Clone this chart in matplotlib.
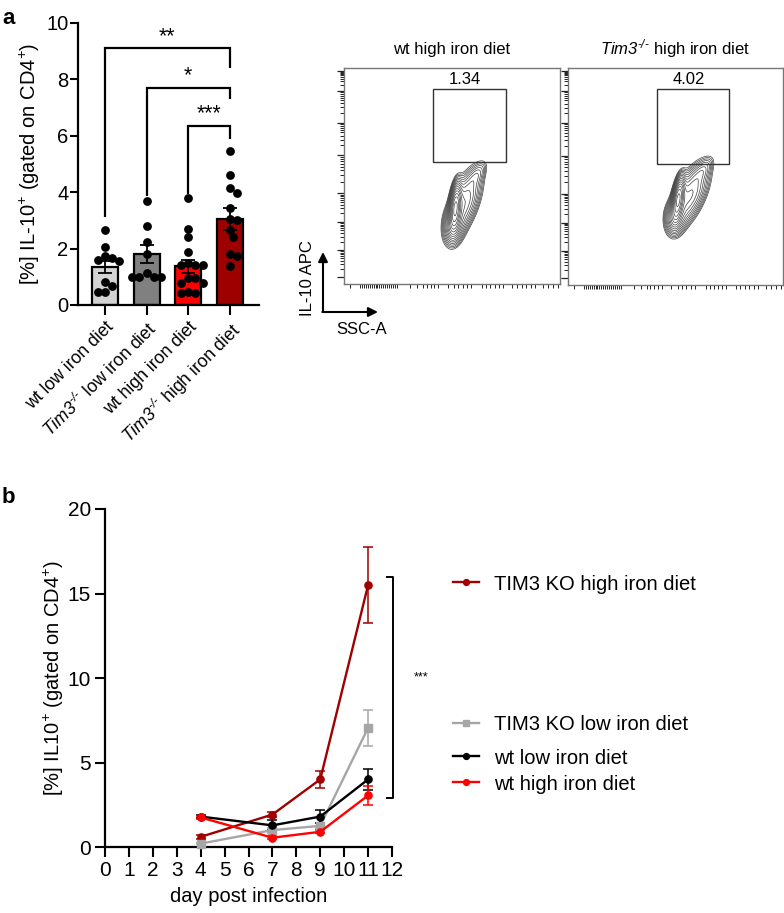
import numpy as np
import matplotlib
matplotlib.use("Agg")
import matplotlib.pyplot as plt
from matplotlib.patches import Rectangle, FancyArrowPatch
from matplotlib.lines import Line2D

plt.rcParams['font.family'] = ['Liberation Sans', 'DejaVu Sans']
plt.rcParams['mathtext.fontset'] = 'custom'
plt.rcParams['mathtext.rm'] = 'Liberation Sans:italic'
plt.rcParams['mathtext.it'] = 'Liberation Sans:italic'
plt.rcParams['mathtext.bf'] = 'Liberation Sans:bold'

# ---------------- DATA ----------------
# panel a: bar chart
bar_labels = ['wt low iron diet',
              r'$\mathit{Tim3}^{\text{-/-}}$ low iron diet',
              'wt high iron diet',
              r'$\mathit{Tim3}^{\text{-/-}}$ high iron diet']
bar_means = [1.35, 1.80, 1.37, 3.05]
bar_sem = [0.20, 0.31, 0.23, 0.38]
pts_wt_low = [2.66, 2.07, 1.74, 1.55, 1.60, 1.65, 0.83, 0.67, 0.45, 0.45]
pts_ko_low = [3.70, 2.80, 2.25, 1.80, 1.12, 1.00, 0.98, 0.98, 1.00]
pts_wt_high = [3.78, 2.68, 2.40, 1.87, 1.48, 1.42, 1.42, 1.42, 0.95, 0.95,
               0.78, 0.78, 0.41, 0.41, 0.45]
pts_ko_high = [5.45, 4.60, 4.15, 3.98, 3.45, 3.05, 3.00, 2.65, 2.40, 1.80,
               1.75, 1.38]
bar_colors = ['#D3D3D3', '#808080', '#FF0000', '#9E0000']
# significance comparisons: (group i, group j, stars)
comparisons = [(0, 3, '**'), (1, 3, '*'), (2, 3, '***')]

# flow plots
flow_titles = ['wt high iron diet', r'$\mathit{Tim3}^{\text{-/-}}$ high iron diet']
gate_values = ['1.34', '4.02']

# panel b: time course
days = [4, 7, 9, 11]
ko_high = [0.60, 1.92, 4.00, 15.50]
ko_high_err = [0.10, 0.15, 0.50, 2.25]
ko_low = [0.20, 1.00, 1.25, 7.05]
ko_low_err = [0.05, 0.15, 0.15, 1.05]
wt_low = [1.80, 1.28, 1.80, 4.00]
wt_low_err = [0.10, 0.30, 0.38, 0.60]
wt_high = [1.75, 0.55, 0.90, 3.05]
wt_high_err = [0.10, 0.10, 0.10, 0.55]
series_labels = ['TIM3 KO high iron diet', 'TIM3 KO low iron diet',
                 'wt low iron diet', 'wt high iron diet']

# ---------------- FIGURE ----------------
W, H = 784, 913
fig = plt.figure(figsize=(W / 100, H / 100), dpi=100)
FS = 14.5


def px_axes(l, t, r, b):
    return fig.add_axes([l / W, 1 - b / H, (r - l) / W, (b - t) / H])


# ---------- panel a ----------
axa = px_axes(77.7, 23, 259, 305)
xpos = np.arange(4)
axa.bar(xpos, bar_means, width=0.62, color=bar_colors, edgecolor='black',
        linewidth=1.6, zorder=2)
axa.errorbar(xpos, bar_means, yerr=bar_sem, fmt='none', ecolor='black',
             elinewidth=1.3, capsize=5, capthick=1.3, zorder=4)


def swarm(vals, xscale=41.7, yscale=28.2, diam=7.2):
    vals = np.asarray(vals, float)
    order = np.argsort(-vals)
    placed = []
    offs = np.zeros(len(vals))
    cands = [0]
    for k in range(1, 12):
        cands += [k * 0.5, -k * 0.5]
    for i in order:
        y = vals[i] * yscale
        for c in cands:
            x = c * diam
            if all((x - px) ** 2 + (y - py) ** 2 >= (diam * 0.98) ** 2
                   for px, py in placed):
                break
        placed.append((x, y))
        offs[i] = x / xscale
    return offs


for i, pts in enumerate([pts_wt_low, pts_ko_low, pts_wt_high, pts_ko_high]):
    off = swarm(pts)
    axa.scatter(i + off, pts, s=40, color='black', zorder=3, linewidths=0)

axa.set_xlim(-0.655, 3.70)
axa.set_ylim(0, 10)
axa.set_yticks([0, 2, 4, 6, 8, 10])
axa.set_xticks(xpos)
axa.set_xticklabels(bar_labels, rotation=45, ha='right',
                    rotation_mode='anchor', fontsize=12.7)
axa.tick_params(axis='y', labelsize=FS, length=6, width=1.5, pad=0.8)
axa.tick_params(axis='x', length=7, width=1.5, pad=3)
for s in ['top', 'right']:
    axa.spines[s].set_visible(False)
for s in ['left', 'bottom']:
    axa.spines[s].set_linewidth(1.6)
axa.set_ylabel(r'[%] IL-10$^{\text{+}}$ (gated on CD4$^{\text{+}}$)',
               fontsize=FS, labelpad=3)

tops = [max(p) for p in [pts_wt_low, pts_ko_low, pts_wt_high, pts_ko_high]]
br_levels = [9.1, 7.7, 6.35]
br_right = [8.4, 7.3, 5.87]
for (i, j, st), yl, yr in zip(comparisons, br_levels, br_right):
    yleft = tops[i] + (0.45 if i == 0 else 0.15)
    axa.plot([i, i, j, j], [yleft, yl, yl, yr], color='black', lw=1.6,
             clip_on=False, zorder=5, solid_capstyle='butt',
             solid_joinstyle='miter')
    axa.text((i + j) / 2, yl + 0.05, st, ha='center', va='bottom',
             fontsize=15.5, clip_on=False)

fig.text(2 / W, 1 - 8 / H, 'a', fontsize=16, fontweight='bold',
         ha='left', va='top')

# ---------- flow plots ----------
flow_boxes = [(344, 68, 560, 284), (568, 68, 783, 285)]
gates = [(0.412, 0.565, 0.750, 0.903), (0.414, 0.556, 0.749, 0.903)]
blobs = [
    [(0.516, 0.36, 0.014, 0.060, -5, 1.00),
     (0.555, 0.37, 0.036, 0.100, -20, 0.40),
     (0.620, 0.51, 0.018, 0.040, -30, 0.10),
     (0.505, 0.27, 0.026, 0.050, 0, 0.25)],
    [(0.513, 0.40, 0.014, 0.055, -8, 1.00),
     (0.565, 0.41, 0.038, 0.095, -25, 0.40),
     (0.630, 0.53, 0.018, 0.040, -35, 0.10),
     (0.495, 0.31, 0.026, 0.045, 0, 0.25)],
]
y_major = [0.034, 0.157, 0.288, 0.420, 0.596, 0.747, 0.895, 0.986]
y_minor = []
for lo, hi in zip(y_major[:-1], y_major[1:]):
    y_minor += [lo + (hi - lo) * np.log10(k) for k in range(2, 10)]
x_minor = ([0.028] + list(np.arange(0.074, 0.25, 0.009)) + [0.305, 0.338]
           + list(np.linspace(0.366, 0.435, 5)) + [0.48]
           + list(np.linspace(0.51, 0.59, 5)) + list(np.linspace(0.64, 0.735, 6))
           + list(np.linspace(0.78, 0.885, 6)) + list(np.linspace(0.92, 0.99, 4)))

gx, gy = np.meshgrid(np.linspace(0, 1, 400), np.linspace(0, 1, 400))
for k, (box, gate, comps) in enumerate(zip(flow_boxes, gates, blobs)):
    ax = px_axes(*box)
    ax.set_xlim(0, 1)
    ax.set_ylim(0, 1)
    Z = np.zeros_like(gx)
    for cx, cy, sx, sy, th, w in comps:
        t = np.deg2rad(th)
        dx, dy = gx - cx, gy - cy
        u = dx * np.cos(t) + dy * np.sin(t)
        v = -dx * np.sin(t) + dy * np.cos(t)
        Z += w * np.exp(-0.5 * ((u / sx) ** 2 + (v / sy) ** 2))
    levels = Z.max() * np.geomspace(0.045, 0.9, 15)
    ax.contour(gx, gy, Z, levels=levels, colors='#404040', linewidths=0.5)
    x0, y0, x1, y1 = gate
    ax.add_patch(Rectangle((x0, y0), x1 - x0, y1 - y0, fill=False,
                           edgecolor='#333333', lw=1.0))
    ax.text((x0 + x1) / 2 - 0.02, y1 + 0.01, gate_values[k], ha='center',
            va='bottom', fontsize=12, family='Liberation Sans')
    ax.set_title(flow_titles[k], fontsize=12, pad=10)
    for s in ax.spines.values():
        s.set_color('#777777')
        s.set_linewidth(1.0)
    ax.set_yticks(y_major)
    ax.set_yticks(y_minor, minor=True)
    ax.set_xticks([])
    ax.set_xticks(x_minor, minor=True)
    ax.tick_params(which='major', axis='y', length=5, width=0.9,
                   color='#222222', labelleft=False)
    ax.tick_params(which='minor', axis='both', length=3, width=0.7,
                   color='#222222', labelleft=False, labelbottom=False)

# axis arrows
ox, oy = 323 / W, 1 - 312 / H
fig.add_artist(FancyArrowPatch(
    (ox, oy), (ox, 1 - 252 / H), transform=fig.transFigure,
    arrowstyle='-|>', mutation_scale=14, lw=1.5, color='black',
    shrinkA=0, shrinkB=0))
fig.add_artist(FancyArrowPatch(
    (ox - 0.7 / W, oy), (378 / W, oy), transform=fig.transFigure,
    arrowstyle='-|>', mutation_scale=14, lw=1.5, color='black',
    shrinkA=0, shrinkB=0))
fig.text(307 / W, 1 - 278 / H, 'IL-10 APC', rotation=90, ha='center',
         va='center', fontsize=12)
fig.text(362 / W, 1 - 329 / H, 'SSC-A', ha='center', va='center',
         fontsize=12)

# ---------- panel b ----------
axb = px_axes(105, 509, 392, 847)
series = [(ko_high, ko_high_err, '#A00000', 'o'),
          (ko_low, ko_low_err, '#A6A6A6', 's'),
          (wt_low, wt_low_err, '#000000', 'o'),
          (wt_high, wt_high_err, '#FF0000', 'o')]
handles = []
for (vals, err, col, mk), lab in zip(series, series_labels):
    axb.errorbar(days, vals, yerr=err, color=col, ecolor=col, lw=1.7,
                 elinewidth=1.1, capsize=3.5, capthick=1.1, marker=mk,
                 markersize=5.2, clip_on=False, zorder=3)
    handles.append(Line2D([], [], color=col, lw=1.7, marker=mk,
                          markersize=4.2, label=lab))
axb.set_xlim(0, 12)
axb.set_ylim(0, 20)
axb.set_xticks(range(0, 13))
axb.set_yticks([0, 5, 10, 15, 20])
axb.tick_params(axis='both', labelsize=15, length=7, width=1.5, pad=3)
for s in ['top', 'right']:
    axb.spines[s].set_visible(False)
for s in ['left', 'bottom']:
    axb.spines[s].set_linewidth(1.6)
axb.set_xlabel('day post infection', fontsize=FS, labelpad=5)
axb.set_ylabel(r'[%] IL10$^{\text{+}}$ (gated on CD4$^{\text{+}}$)',
               fontsize=FS, labelpad=1)

# significance bracket
bx = 12.04
axb.plot([11.8, bx, bx, 11.8], [15.97, 15.97, 2.87, 2.87], color='black',
         lw=1.4, clip_on=False)
axb.text(13.2, 10.06, '***', ha='center', va='center', fontsize=9,
         clip_on=False)

leg_y = [584, 725, 758, 784]
for h, yy in zip(handles, leg_y):
    fig.legend(handles=[h], loc='center left',
               bbox_to_anchor=(453 / W, 1 - yy / H), frameon=False,
               fontsize=FS, handlelength=1.3, handletextpad=0.75,
               borderpad=0, borderaxespad=0)

fig.text(2 / W, 1 - 487 / H, 'b', fontsize=16, fontweight='bold',
         ha='left', va='top')

fig.savefig('out.png', dpi=100)
